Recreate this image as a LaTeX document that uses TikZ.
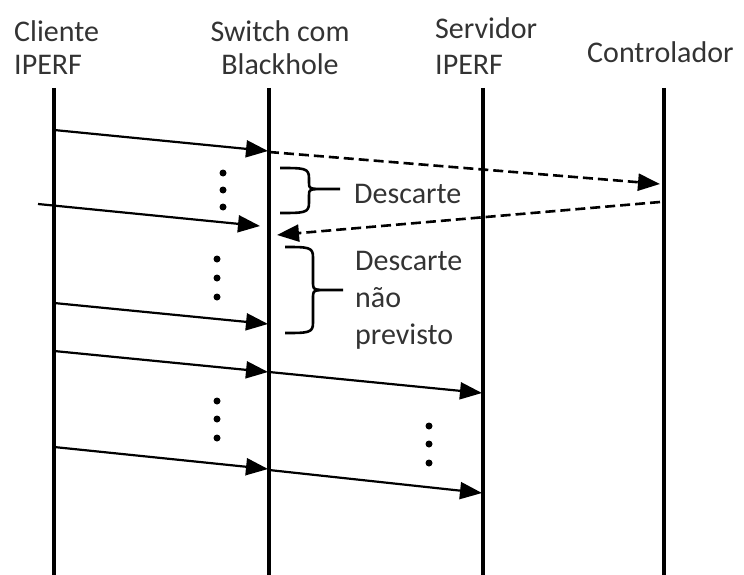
\documentclass[tikz,border=0pt]{standalone}
\usepackage{fontspec}
\setmainfont{Carlito}
\usetikzlibrary{arrows.meta}
\begin{document}
\begin{tikzpicture}[x=1pt,y=-1pt,
  lifeline/.style={line width=4.5pt},
  msg/.style={line width=2.2pt,-{Triangle[length=22pt,width=17pt]}},
  ctrl/.style={line width=2.6pt,dash pattern=on 10pt off 5pt,-{Triangle[length=22pt,width=17pt]}},
  lbl/.style={inner sep=0pt,text=black!80,font=\fontsize{30}{36}\selectfont},
  dotmark/.style={circle,fill=black,inner sep=0pt,minimum size=7pt},
  bracepath/.style={line width=2.6pt,line join=round}]
\useasboundingbox (0,0) rectangle (744,575);
% headers
\node[lbl,anchor=base west] (h1a) at (14,42) {Cliente};
\node[lbl,anchor=base west] (h1b) at (14,75) {IPERF};
\node[lbl,anchor=base] (h2a) at (280,42) {Switch com};
\node[lbl,anchor=base] (h2b) at (280,75) {Blackhole};
\node[lbl,anchor=base west] (h3a) at (435,39) {Servidor};
\node[lbl,anchor=base west] (h3b) at (435,75) {IPERF};
\node[lbl,anchor=base west] (h4) at (587,63) {Controlador};
% lifelines
\coordinate (cT) at (54,88);  \coordinate (cB) at (54,575);
\coordinate (sT) at (269,88); \coordinate (sB) at (269,575);
\coordinate (vT) at (483,88); \coordinate (vB) at (483,575);
\coordinate (kT) at (664,88); \coordinate (kB) at (664,575);
\draw[lifeline] (cT) -- (cB);
\draw[lifeline] (sT) -- (sB);
\draw[lifeline] (vT) -- (vB);
\draw[lifeline] (kT) -- (kB);
% message endpoints
\coordinate (a1) at (54,130);  \coordinate (b1) at (268,151);
\coordinate (a2) at (269,152); \coordinate (b2) at (660,184);
\coordinate (a3) at (660,202); \coordinate (b3) at (277,235);
\coordinate (a4) at (38,204);  \coordinate (b4) at (260,226);
\coordinate (a5) at (54,303);  \coordinate (b5) at (268,324);
\coordinate (a6) at (54,351);  \coordinate (b6) at (268,372);
\coordinate (a7) at (269,372); \coordinate (b7) at (482,393);
\coordinate (a8) at (54,447);  \coordinate (b8) at (268,469);
\coordinate (a9) at (269,470); \coordinate (b9) at (482,493);
\draw[msg] (a1) -- (b1);
\draw[ctrl] (a2) -- (b2);
\draw[ctrl] (a3) -- (b3);
\draw[msg] (a4) -- (b4);
\draw[msg] (a5) -- (b5);
\draw[msg] (a6) -- (b6);
\draw[msg] (a7) -- (b7);
\draw[msg] (a8) -- (b8);
\draw[msg] (a9) -- (b9);
% dots
\foreach \i/\x/\y in {1/223/173,2/223/190,3/223/207,
                      4/217/259,5/217/278,6/217/297,
                      7/217/401,8/217/419,9/217/438,
                      10/429/426,11/429/444,12/429/463}
  \node[dotmark] (d\i) at (\x,\y) {};
% braces
\draw[bracepath] (280,168) .. controls (304,168) and (309,168) .. (309,178) -- (309,182)
   .. controls (309,188) .. (316,189) -- (340,189);
\draw[bracepath] (280,213) .. controls (304,213) and (309,213) .. (309,203) -- (309,196)
   .. controls (309,190) .. (316,189);
\draw[bracepath] (285,247) .. controls (308,247) and (313,247) .. (313,257) -- (313,281)
   .. controls (313,289) .. (320,290) -- (343,290);
\draw[bracepath] (285,333) .. controls (308,333) and (313,333) .. (313,323) -- (313,299)
   .. controls (313,291) .. (320,290);
% labels
\node[lbl,anchor=base west] (t1) at (354,203) {Descarte};
\node[lbl,anchor=base west] (t2) at (355,270) {Descarte};
\node[lbl,anchor=base west] (t3) at (355,307) {não};
\node[lbl,anchor=base west] (t4) at (355,344) {previsto};
\end{tikzpicture}
\end{document}
